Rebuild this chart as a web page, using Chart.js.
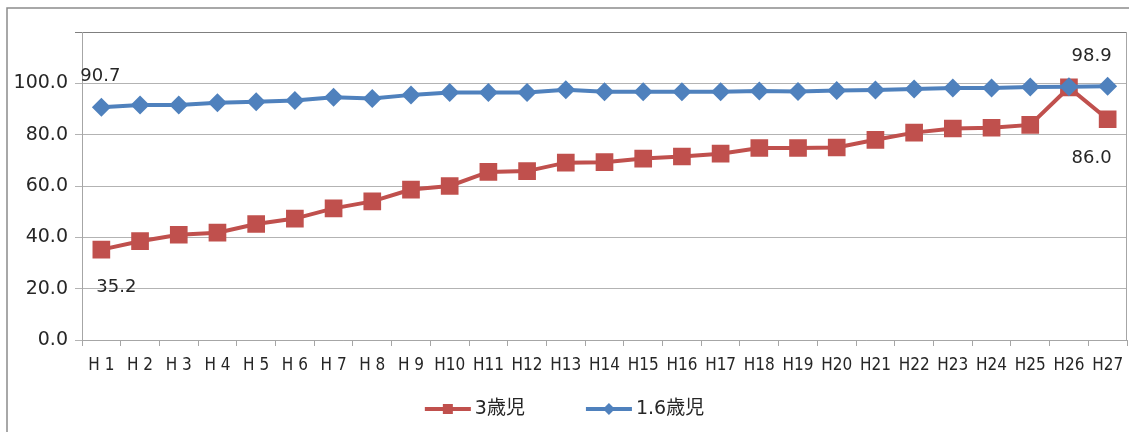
<!DOCTYPE html>
<html>
<head>
<meta charset="utf-8">
<script src="https://cdn.jsdelivr.net/npm/chart.js"></script>
<style>
  html, body { margin: 0; padding: 0; background: #fff; }
  #wrap { width: 1129px; height: 432px; position: relative; }
</style>
</head>
<body>
<div id="wrap"><canvas id="myChart" width="1129" height="432"></canvas></div>
<script>
const years = ['H 1', 'H 2', 'H 3', 'H 4', 'H 5', 'H 6', 'H 7', 'H 8', 'H 9', 'H10',
    'H11', 'H12', 'H13', 'H14', 'H15', 'H16', 'H17', 'H18', 'H19', 'H20',
    'H21', 'H22', 'H23', 'H24', 'H25', 'H26', 'H27'];
const age3 = [35.2, 38.5, 41.0, 41.8, 45.2, 47.3, 51.3, 54.0, 58.6, 60.0,
    65.5, 65.8, 69.1, 69.3, 70.7, 71.5, 72.6, 74.8, 74.8, 75.0,
    78.0, 80.8, 82.4, 82.7, 83.8, 98.4, 86.0];
const age16 = [90.7, 91.6, 91.6, 92.4, 92.8, 93.3, 94.6, 94.1, 95.5, 96.4,
    96.4, 96.4, 97.5, 96.7, 96.7, 96.7, 96.7, 97.0, 96.8, 97.2,
    97.4, 97.8, 98.2, 98.2, 98.6, 98.7, 98.9];
const seriesNames = ['3歳児', '1.6歳児'];
const yTicks = [0, 20, 40, 60, 80, 100, 120];

const RED = '#C0504D';
const BLUE = '#4F81BD';
const TEXT = '#262626';

// value labels shown on a few points (dataset, index, offset from point)
const pointLabels = [
    { ds: 1, i: 0, dx: -1, dy: -31 },
    { ds: 0, i: 0, dx: 15, dy: 38 },
    { ds: 1, i: 26, dx: -16, dy: -30 },
    { ds: 0, i: 26, dx: -16, dy: 39 }
];

const framePlugin = {
    id: 'frame',
    beforeDraw(chart) {
        const c = chart.ctx;
        c.save();
        c.strokeStyle = '#8c8c8c';
        c.lineWidth = 1.5;
        c.beginPath();
        c.moveTo(7, 440);
        c.lineTo(7, 8);
        c.lineTo(1140, 8);
        c.stroke();
        c.restore();
    },
    afterDatasetsDraw(chart) {
        const c = chart.ctx;
        const a = chart.chartArea;
        c.save();
        c.strokeStyle = '#a6a6a6';
        c.lineWidth = 1;
        c.beginPath();
        c.moveTo(a.right - 0.5, a.top);
        c.lineTo(a.right - 0.5, a.bottom);
        c.stroke();

        // value labels
        c.fillStyle = TEXT;
        c.font = '18px "DejaVu Sans", sans-serif';
        c.textAlign = 'center';
        c.textBaseline = 'middle';
        pointLabels.forEach(p => {
            const el = chart.getDatasetMeta(p.ds).data[p.i];
            const v = chart.data.datasets[p.ds].data[p.i];
            c.fillText(v.toFixed(1), el.x + p.dx, el.y + p.dy);
        });

        // legend: line + marker + name
        c.font = '19px "DejaVu Sans", "Noto Sans CJK JP", sans-serif';
        c.textAlign = 'left';
        const lineW = 46, gapText = 4, gapItem = 61, cy = 409;
        const sets = [chart.data.datasets[0], chart.data.datasets[1]];
        const widths = sets.map(d => lineW + gapText + c.measureText(d.label).width);
        let x = chart.width / 2 - (widths[0] + widths[1] + gapItem) / 2;
        sets.forEach((d, k) => {
            c.strokeStyle = d.borderColor;
            c.fillStyle = d.borderColor;
            c.lineWidth = 4;
            c.beginPath();
            c.moveTo(x, cy);
            c.lineTo(x + lineW, cy);
            c.stroke();
            const mx = x + lineW / 2;
            c.beginPath();
            if (d.pointStyle === 'rect') {
                c.rect(mx - 5, cy - 5, 10, 10);
            } else {
                c.moveTo(mx - 6, cy);
                c.lineTo(mx, cy - 6);
                c.lineTo(mx + 6, cy);
                c.lineTo(mx, cy + 6);
                c.closePath();
            }
            c.fill();
            c.fillStyle = TEXT;
            c.fillText(d.label, x + lineW + gapText, cy);
            x += widths[k] + gapItem;
        });
        c.restore();
    }
};

const ctx = document.getElementById('myChart').getContext('2d');
const myChart = new Chart(ctx, {
    type: 'line',
    data: {
        labels: years,
        datasets: [{
            label: seriesNames[0],
            data: age3,
            borderColor: RED,
            backgroundColor: RED,
            borderWidth: 4,
            pointStyle: 'rect',
            pointRadius: 12.5,
            pointBorderWidth: 0,
            pointBackgroundColor: RED,
            tension: 0,
            order: 2
        }, {
            label: seriesNames[1],
            data: age16,
            borderColor: BLUE,
            backgroundColor: BLUE,
            borderWidth: 4,
            pointStyle: 'rectRot',
            pointRadius: 9.5,
            pointBorderWidth: 0,
            pointBackgroundColor: BLUE,
            tension: 0,
            order: 1
        }]
    },
    options: {
        responsive: false,
        animation: false,
        layout: { autoPadding: false, padding: { left: 0, right: 2, top: 32, bottom: 60 } },
        plugins: {
            legend: { display: false },
            tooltip: { enabled: false }
        },
        scales: {
            x: {
                offset: true,
                afterFit(scale) {
                    scale.height = 32;
                    scale.paddingLeft = 0;
                    scale.paddingRight = 0;
                },
                grid: {
                    offset: true,
                    drawOnChartArea: false,
                    tickLength: 6,
                    color: '#a6a6a6'
                },
                border: { color: '#a6a6a6' },
                ticks: {
                    color: TEXT,
                    padding: 9,
                    maxRotation: 0,
                    autoSkip: false,
                    font: { family: '"DejaVu Sans Condensed", "DejaVu Sans", sans-serif', size: 17 }
                }
            },
            y: {
                min: 0,
                max: 120,
                afterFit(scale) {
                    scale.width = 82;
                    scale.paddingTop = 0;
                    scale.paddingBottom = 0;
                },
                afterBuildTicks(scale) { scale.ticks = yTicks.map(v => ({ value: v })); },
                grid: {
                    tickLength: 7,
                    color: ctx => ctx.tick && ctx.tick.value === 120 ? '#7f7f7f' : '#b3b3b3'
                },
                border: { color: '#a6a6a6' },
                ticks: {
                    color: TEXT,
                    padding: 7,
                    font: { family: '"DejaVu Sans", sans-serif', size: 19 },
                    callback: v => v === 120 ? '' : v.toFixed(1)
                }
            }
        }
    },
    plugins: [framePlugin]
});
</script>
</body>
</html>
